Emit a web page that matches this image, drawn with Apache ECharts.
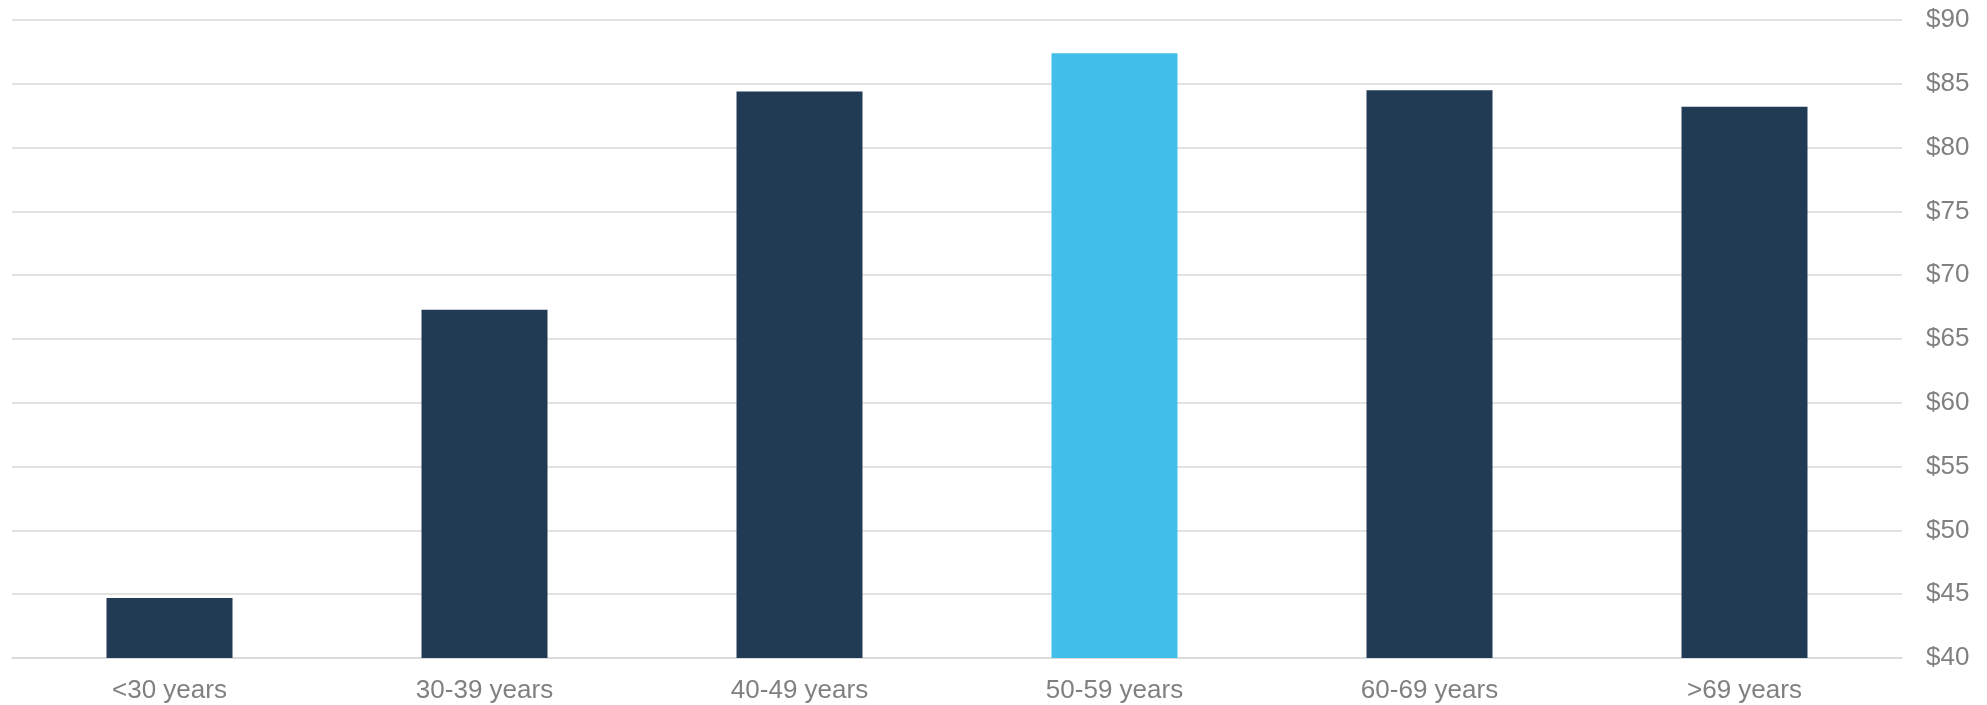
<!DOCTYPE html>
<html>
<head>
<meta charset="utf-8">
<script src="https://cdn.jsdelivr.net/npm/echarts@6/dist/echarts.min.js"></script>
<style>
html,body{margin:0;padding:0;background:#fff;}
#chart{width:1987px;height:705px;}
</style>
</head>
<body>
<div id="chart"></div>
<script>
const categories = ['<30 years', '30-39 years', '40-49 years', '50-59 years', '60-69 years', '>69 years'];
const values = [44.7, 67.3, 84.4, 87.4, 84.5, 83.2];
const highlightIndex = 3;
const yTicks = { min: 40, max: 90, interval: 5 };

const chart = echarts.init(document.getElementById('chart'));
chart.setOption({
  animation: false,
  grid: { left: 12, right: 85, top: 20, bottom: 47, containLabel: false },
  xAxis: {
    type: 'category',
    data: categories,
    axisLine: { show: true, lineStyle: { color: '#d9d9d9', width: 1.5 } },
    axisTick: { show: false },
    axisLabel: { color: '#808080', fontSize: 26, fontFamily: 'Liberation Sans, Arial, sans-serif', margin: 20 }
  },
  yAxis: {
    type: 'value',
    position: 'right',
    min: yTicks.min,
    max: yTicks.max,
    interval: yTicks.interval,
    axisLine: { show: false },
    axisTick: { show: false },
    splitLine: { lineStyle: { color: '#d9d9d9', width: 1.5 } },
    axisLabel: {
      color: '#808080', fontSize: 26, fontFamily: 'Liberation Sans, Arial, sans-serif', margin: 24,
      formatter: v => '$' + v
    }
  },
  series: [{
    type: 'bar',
    barWidth: '40%',
    data: values.map((v, i) => ({
      value: v,
      itemStyle: { color: i === highlightIndex ? '#41bfea' : '#223b55' }
    }))
  }]
});
</script>
</body>
</html>
